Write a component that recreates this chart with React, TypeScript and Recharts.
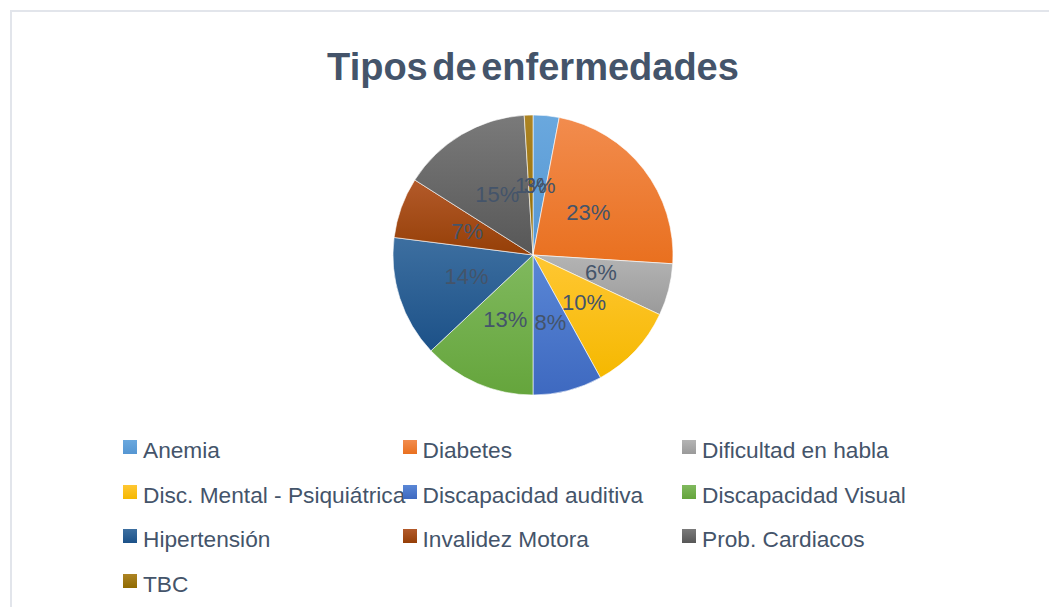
import { PieChart, Pie, Cell } from "recharts";

const categories = [
  "Anemia",
  "Diabetes",
  "Dificultad en habla",
  "Disc. Mental - Psiquiátrica",
  "Discapacidad auditiva",
  "Discapacidad Visual",
  "Hipertensión",
  "Invalidez Motora",
  "Prob. Cardiacos",
  "TBC",
];
const percents = [3, 23, 6, 10, 8, 13, 14, 7, 15, 1];
// colores tipo Office 2013 (arriba más claro, abajo el base)
const topColors = ["#6AA8DE", "#F28C4E", "#B4B4B4", "#FFC733", "#5A87D6", "#80B95E", "#3D6FA0", "#B35A2A", "#7A7A7A", "#AD8424"];
const baseColors = ["#5596D2", "#E9701F", "#9A9A9A", "#F5B800", "#3E69C0", "#65A53C", "#1C5188", "#953F07", "#575757", "#8F6A00"];

const data = categories.map((name, i) => ({ name, value: percents[i] }));

const TEXT = "#44546A";
const RAD = Math.PI / 180;

const renderLabel = (props: any) => {
  const { cx, cy, midAngle, outerRadius, value } = props;
  const r = outerRadius * 0.5;
  const x = cx + r * Math.cos(-midAngle * RAD);
  const y = cy + r * Math.sin(-midAngle * RAD);
  return (
    <text
      x={x}
      y={y}
      fill={TEXT}
      textAnchor="middle"
      dominantBaseline="central"
      fontSize={22}
      fontFamily="Liberation Sans, Arial, sans-serif"
    >
      {value}%
    </text>
  );
};

export default function App() {
  return (
    <div
      style={{
        position: "absolute",
        left: 0,
        top: 0,
        width: 1049,
        height: 607,
        overflow: "hidden",
        background: "#fff",
        fontFamily: "Liberation Sans, Arial, sans-serif",
      }}
    >
      <div
        style={{
          position: "absolute",
          left: 10,
          top: 10,
          width: 1100,
          height: 700,
          border: "2px solid #E2E5EB",
        }}
      />
      <div
        style={{
          position: "absolute",
          left: 233,
          top: 48,
          width: 600,
          textAlign: "center",
          fontSize: 38,
          lineHeight: "38px",
          fontWeight: "bold",
          color: TEXT,
          wordSpacing: -6,
        }}
      >
        Tipos de enfermedades
      </div>
      <PieChart width={1049} height={607} margin={{ top: 0, right: 0, bottom: 0, left: 0 }} style={{ position: "absolute", left: 0, top: 0 }}>
        <defs>
          {baseColors.map((c, i) => (
            <linearGradient key={i} id={`grad${i}`} x1="0" y1="0" x2="0" y2="1">
              <stop offset="0%" stopColor={topColors[i]} />
              <stop offset="100%" stopColor={c} />
            </linearGradient>
          ))}
        </defs>
        <Pie
          data={data}
          dataKey="value"
          nameKey="name"
          cx={533}
          cy={255}
          outerRadius={140}
          startAngle={90}
          endAngle={-270}
          label={renderLabel}
          labelLine={false}
          stroke="#ffffff"
          strokeWidth={0.6}
          isAnimationActive={false}
        >
          {data.map((_, i) => (
            <Cell key={i} fill={`url(#grad${i})`} />
          ))}
        </Pie>
      </PieChart>
      {categories.map((name, i) => {
        const col = i % 3;
        const row = Math.floor(i / 3);
        const left = 123 + col * 279.5;
        const top = 440 + row * 44.5;
        return (
          <div key={name} style={{ position: "absolute", left, top, height: 22, whiteSpace: "nowrap" }}>
            <div
              style={{
                position: "absolute",
                left: 0,
                top: 0,
                width: 14,
                height: 14,
                background: `linear-gradient(${topColors[i]}, ${baseColors[i]})`,
              }}
            />
            <span
              style={{
                position: "absolute",
                left: 20,
                top: -1,
                fontSize: 22.7,
                lineHeight: "23px",
                color: TEXT,
              }}
            >
              {name}
            </span>
          </div>
        );
      })}
    </div>
  );
}
